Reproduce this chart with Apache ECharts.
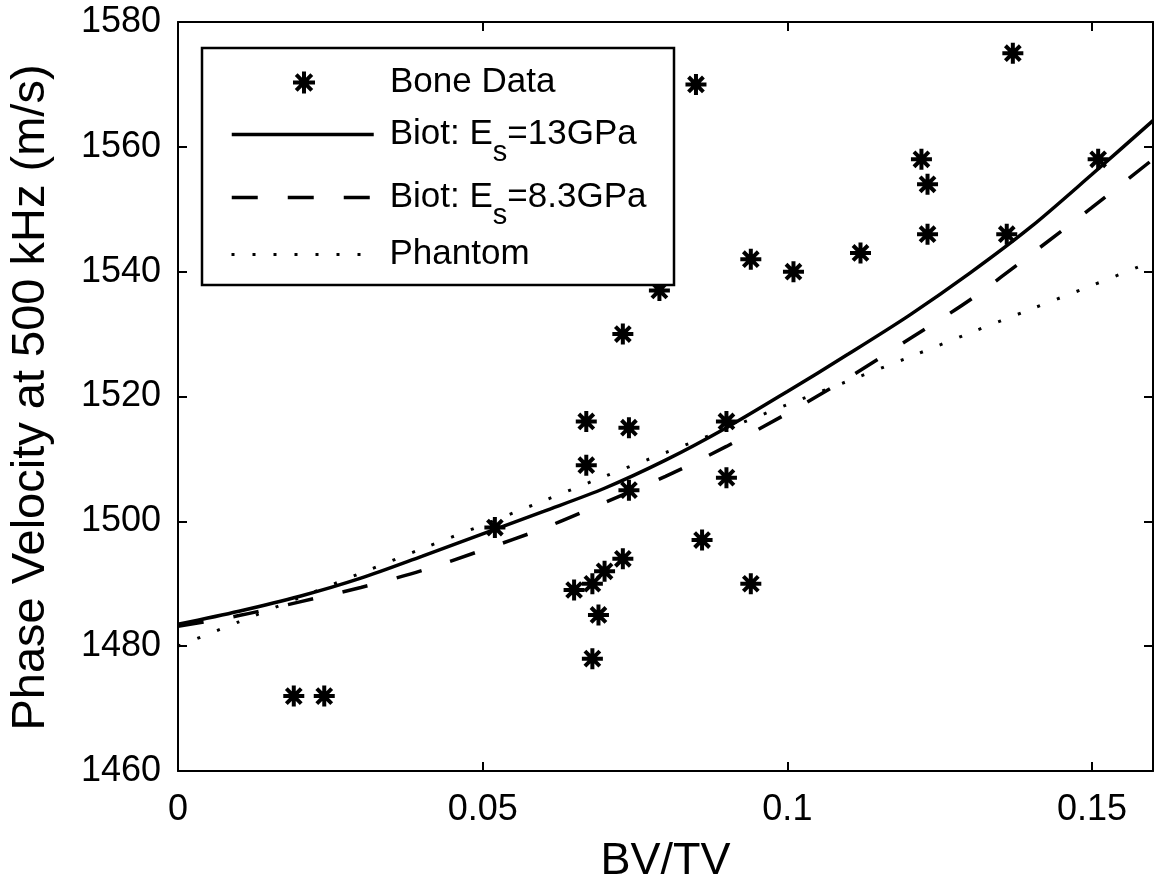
<!DOCTYPE html>
<html><head><meta charset="utf-8">
<script src="https://cdn.jsdelivr.net/npm/echarts@6/dist/echarts.min.js"></script>
<style>html,body{margin:0;padding:0;background:#fff}#c{width:1155px;height:882px}</style>
</head><body><div id="c"></div>
<script>
// ---- data ----
const boneX = [0.019, 0.024, 0.052, 0.065, 0.068, 0.070, 0.073, 0.069, 0.068, 0.067, 0.067, 0.073, 0.074, 0.074, 0.079, 0.085, 0.086, 0.090, 0.090, 0.094, 0.094, 0.101, 0.112, 0.122, 0.123, 0.123, 0.136, 0.137, 0.151];
const boneY = [1472, 1472, 1499, 1489, 1490, 1492, 1494, 1485, 1478, 1516, 1509, 1530, 1515, 1505, 1537, 1570, 1497, 1516, 1507, 1542, 1490, 1540, 1543, 1558, 1554, 1546, 1546, 1575, 1558];
const curveX = [0, 0.01, 0.02, 0.03, 0.04, 0.05, 0.06, 0.07, 0.08, 0.09, 0.10, 0.11, 0.12, 0.13, 0.14, 0.15, 0.16];
const biot13 = [1483.5, 1485.6, 1488.0, 1490.9, 1494.4, 1498.0, 1501.6, 1505.3, 1509.8, 1515.0, 1520.8, 1526.8, 1533.0, 1539.8, 1547.2, 1555.6, 1564.2];
const biot83 = [1483.2, 1484.9, 1487.1, 1489.4, 1492.1, 1495.4, 1498.9, 1503.0, 1507.2, 1512.0, 1517.3, 1523.0, 1529.2, 1535.5, 1542.8, 1550.3, 1558.0];
const phantom = [1480.0, 1483.9, 1487.8, 1491.7, 1495.6, 1499.4, 1503.3, 1507.2, 1511.0, 1514.8, 1518.7, 1522.5, 1526.3, 1530.2, 1534.0, 1537.8, 1541.7];
const seriesNames = ['Bone Data', 'Biot: E_s=13GPa', 'Biot: E_s=8.3GPa', 'Phantom'];
const xAxisTitle = 'BV/TV';
const yAxisTitle = 'Phase Velocity at 500 kHz (m/s)';

const FONT = '"Liberation Sans", Arial, Helvetica, sans-serif';
const STAR = 'path://M0,-11L0,11M-11,0L11,0M-7.8,-7.8L7.8,7.8M-7.8,7.8L7.8,-7.8';
const zip = (xs, ys) => xs.map((x, i) => [x, ys[i]]);
const lineStyles = [
  null,
  { color: '#000', width: 3.5, type: 'solid' },
  { color: '#000', width: 3.5, type: [26, 30] },
  { color: '#000', width: 3, type: [3, 18] }
];

const legendFmt = name => {
  if (name.indexOf('_s') >= 0) {
    const p = name.split('_s');
    return '{n|' + p[0] + '}{s|s}{n|' + p[1] + '}';
  }
  return '{n|' + name + '}';
};
const rich = {
  n: { fontSize: 35, lineHeight: 40, fontFamily: FONT, color: '#000' },
  s: { fontSize: 29, lineHeight: 40, fontFamily: FONT, color: '#000', padding: [36, 0, 0, 0] }
};
const legendTops = [65, 102, 165, 237];
const legends = seriesNames.map((nm, i) => {
  const isStar = i === 0;
  const lg = {
    data: [nm], orient: 'vertical', left: isStar ? 291 : 230, top: legendTops[i], padding: 0,
    itemWidth: isStar ? 22 : 142, itemHeight: isStar ? 22 : 19, selectedMode: false,
    formatter: legendFmt,
    textStyle: { color: '#000', fontFamily: FONT, padding: [0, 0, 0, isStar ? 70 : 11], rich: rich },
    itemStyle: isStar ? { color: '#000', borderColor: '#000', borderWidth: 4 } : { opacity: 0 },
    z: 5
  };
  if (!isStar) lg.lineStyle = lineStyles[i];
  return lg;
});

const axisCommon = {
  axisLine: { show: true, onZero: false, lineStyle: { color: '#000', width: 2 } },
  axisTick: { show: true, inside: true, length: 9, lineStyle: { color: '#000', width: 2 } },
  splitLine: { show: false }
};
const plain = v => String(v);

const chart = echarts.init(document.getElementById('c'), null, { renderer: 'canvas' });
chart.setOption({
  animation: false,
  backgroundColor: '#fff',
  grid: { left: 178, right: 2, top: 22, bottom: 111, containLabel: false, outerBoundsMode: 'none' },
  xAxis: [
    Object.assign({
      type: 'value', position: 'bottom', min: 0, max: 0.16, interval: 0.05,
      name: xAxisTitle, nameLocation: 'middle', nameGap: 68,
      nameTextStyle: { fontSize: 45, color: '#000', fontFamily: FONT },
      axisLabel: { fontSize: 36, color: '#000', fontFamily: FONT, margin: 21, showMaxLabel: false, formatter: plain }
    }, axisCommon),
    Object.assign({
      type: 'value', position: 'top', min: 0, max: 0.16, interval: 0.05,
      axisLabel: { show: false }
    }, axisCommon)
  ],
  yAxis: [
    Object.assign({
      type: 'value', position: 'left', min: 1460, max: 1580, interval: 20,
      name: yAxisTitle, nameLocation: 'middle', nameGap: 123, nameRotate: 90,
      nameTextStyle: { fontSize: 47, color: '#000', fontFamily: FONT, padding: [0, 2, 0, 0] },
      axisLabel: { fontSize: 36, color: '#000', fontFamily: FONT, margin: 17, formatter: plain }
    }, axisCommon),
    Object.assign({
      type: 'value', position: 'right', min: 1460, max: 1580, interval: 20,
      axisLabel: { show: false }
    }, axisCommon)
  ],
  legend: legends,
  graphic: {
    elements: [{
      type: 'rect', z: 3, silent: true,
      shape: { x: 202, y: 48, width: 472, height: 237 },
      style: { fill: '#fff', stroke: '#000', lineWidth: 2.5 }
    }]
  },
  series: [
    {
      name: seriesNames[0], type: 'scatter', data: zip(boneX, boneY),
      symbol: STAR, symbolSize: 21, silent: true,
      itemStyle: { color: '#000', borderColor: '#000', borderWidth: 4, opacity: 1 },
      z: 2
    },
    {
      name: seriesNames[1], type: 'line', data: zip(curveX, biot13), symbol: 'none', smooth: 0.3,
      silent: true, lineStyle: lineStyles[1], itemStyle: { color: '#000' }
    },
    {
      name: seriesNames[2], type: 'line', data: zip(curveX, biot83), symbol: 'none', smooth: 0.3,
      silent: true, lineStyle: lineStyles[2], itemStyle: { color: '#000' }
    },
    {
      name: seriesNames[3], type: 'line', data: zip(curveX, phantom), symbol: 'none', smooth: 0.3,
      silent: true, lineStyle: lineStyles[3], itemStyle: { color: '#000' }
    }
  ]
});
</script>
</body></html>
